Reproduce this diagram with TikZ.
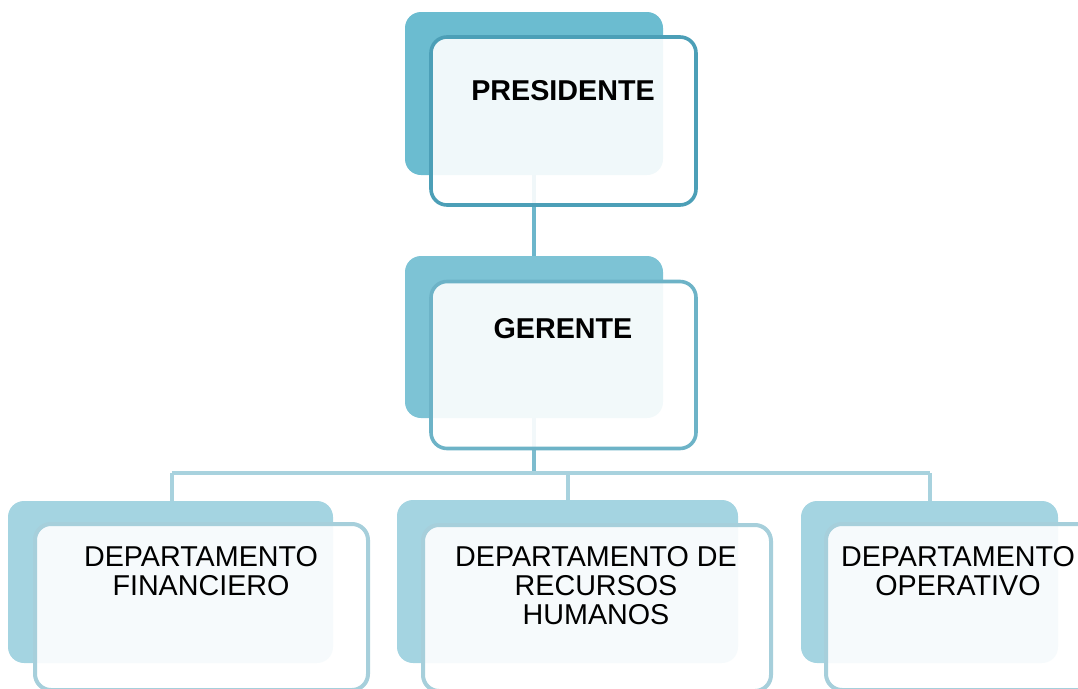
\documentclass[tikz,border=0pt]{standalone}
\usepackage{fontspec}
\setmainfont{Liberation Sans}
\definecolor{backA}{HTML}{6BBCD0}
\definecolor{backB}{HTML}{7DC3D5}
\definecolor{backC}{HTML}{A4D4E1}
\definecolor{edgeA}{HTML}{4C9FB7}
\definecolor{edgeB}{HTML}{6DB3C7}
\definecolor{edgeC}{HTML}{A6CFDB}
\definecolor{connA}{HTML}{6CB6CB}
\definecolor{connB}{HTML}{7DBCCE}
\definecolor{connC}{HTML}{A8D2DE}
\begin{document}
\begin{tikzpicture}[x=1pt,y=-1pt,
  backbox/.style={rectangle,rounded corners=16pt,draw=none,fill=#1,inner sep=0pt},
  frontbox/.style={rectangle,rounded corners=16pt,draw=#1,line width=3.6pt,fill=white,fill opacity=0.9,inner sep=0pt},
  conn/.style={draw=#1,line width=4pt},
  boldlabel/.style={inner sep=0pt,font=\fontsize{28.7}{29}\selectfont\bfseries},
  plainlabel/.style={inner sep=0pt,align=center,font=\fontsize{28.7}{29}\selectfont}
]
\clip (0,0) rectangle (1078,688);
\useasboundingbox (0,0) rectangle (1078,688);

% back boxes
\node[backbox=backA,minimum width=258pt,minimum height=163pt] (pb) at (534,93.5) {};
\node[backbox=backB,minimum width=258pt,minimum height=162pt] (gb) at (534,337) {};
\node[backbox=backC,minimum width=325pt,minimum height=162pt] (fb) at (170.5,582) {};
\node[backbox=backC,minimum width=341pt,minimum height=163pt] (rb) at (567.5,581.5) {};
\node[backbox=backC,minimum width=257pt,minimum height=162pt] (ob) at (929.5,582) {};

% connectors
\coordinate (hj) at (534,473);
\coordinate (hL) at (172,473);
\coordinate (hM) at (568,473);
\coordinate (hR) at (930,473);
\draw[conn=connA] (pb.south) -- (gb.north);
\draw[conn=connB] (gb.south) -- (hj);
\draw[conn=connC] (hL) -- (hR);
\draw[conn=connC] (hL) -- (hL |- fb.north);
\draw[conn=connC] (hM) -- (hM |- rb.north);
\draw[conn=connC] (hR) -- (hR |- ob.north);

% front boxes
\node[frontbox=edgeA,minimum width=265pt,minimum height=168pt] (pf) at (563.5,121) {};
\node[frontbox=edgeB,minimum width=265pt,minimum height=167pt] (gf) at (563.5,365) {};
\node[frontbox=edgeC,line width=4pt,minimum width=333pt,minimum height=166pt] (ff) at (201.5,607) {};
\node[frontbox=edgeC,line width=4pt,minimum width=348pt,minimum height=166pt] (rf) at (597,608) {};
\node[frontbox=edgeC,line width=4pt,minimum width=300pt,minimum height=166pt] (of) at (976,607) {};

% labels
\node[boldlabel] (pt) at (563,91) {PRESIDENTE};
\node[boldlabel] (gt) at (563,329) {GERENTE};
\node[plainlabel] (ft) at (201,571.5) {DEPARTAMENTO\\FINANCIERO};
\node[plainlabel] (rt) at (596,586) {DEPARTAMENTO DE\\RECURSOS\\HUMANOS};
\node[plainlabel] (ot) at (958,571.5) {DEPARTAMENTO\\OPERATIVO};
\end{tikzpicture}
\end{document}
